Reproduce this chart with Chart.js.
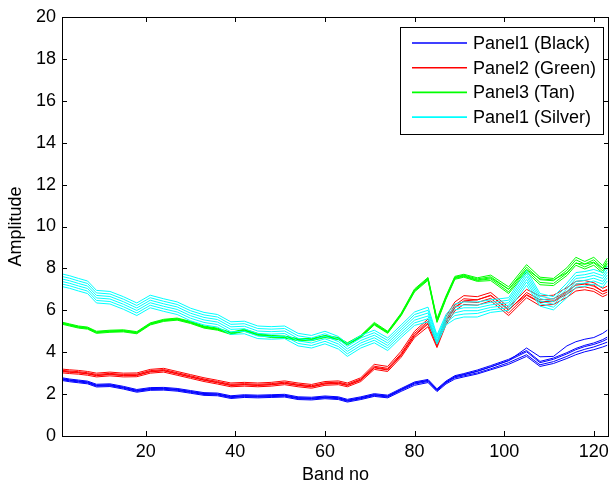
<!DOCTYPE html>
<html>
<head>
<meta charset="utf-8">
<script src="https://cdn.jsdelivr.net/npm/chart.js@4.4.1/dist/chart.umd.min.js"></script>
<style>
  body { margin: 0; background: #fff; }
  #wrap { width: 611px; height: 482px; }
</style>
</head>
<body>
<div id="wrap"><canvas id="myChart" width="611" height="482"></canvas></div>
<script>
var bands = [1,3,5,7,9,12,15,18,21,24,27,30,33,36,39,42,45,48,51,54,57,60,63,65,68,71,74,77,80,83,85,87,89,91,94,97,101,105,108,111,114,116,118,120,122,123];

// Panel1 (Black) - blue
var blue1 = [2.66,2.59,2.54,2.49,2.34,2.36,2.24,2.09,2.18,2.19,2.14,2.04,1.94,1.92,1.79,1.84,1.82,1.84,1.86,1.74,1.72,1.78,1.74,1.62,1.74,1.89,1.82,2.13,2.42,2.55,2.12,2.48,2.72,2.82,2.96,3.16,3.42,3.8,3.32,3.46,3.7,3.88,4.02,4.12,4.25,4.33];
var blue2 = [2.70,2.63,2.58,2.53,2.38,2.40,2.28,2.13,2.22,2.23,2.18,2.08,1.98,1.96,1.83,1.88,1.86,1.88,1.90,1.78,1.76,1.82,1.78,1.66,1.78,1.93,1.86,2.18,2.48,2.6,2.16,2.53,2.78,2.87,3.01,3.21,3.5,3.88,3.4,3.55,3.8,4.0,4.14,4.25,4.4,4.48];
var blue3 = [2.75,2.68,2.63,2.58,2.43,2.45,2.33,2.18,2.27,2.28,2.23,2.13,2.03,2.01,1.88,1.93,1.91,1.93,1.95,1.83,1.81,1.87,1.83,1.71,1.83,1.98,1.91,2.23,2.54,2.66,2.21,2.58,2.84,2.94,3.1,3.3,3.6,4.02,3.5,3.66,3.92,4.12,4.27,4.37,4.52,4.63];
var blue4 = [2.79,2.72,2.67,2.62,2.47,2.49,2.37,2.22,2.31,2.32,2.27,2.17,2.07,2.05,1.92,1.97,1.95,1.97,1.99,1.87,1.85,1.91,1.87,1.75,1.87,2.02,1.95,2.27,2.58,2.7,2.25,2.62,2.88,2.98,3.15,3.36,3.66,4.08,3.56,3.72,3.98,4.18,4.33,4.44,4.6,4.72];
var blue5 = [2.73,2.66,2.61,2.56,2.41,2.43,2.31,2.16,2.25,2.26,2.21,2.11,2.01,1.99,1.86,1.91,1.89,1.91,1.93,1.81,1.79,1.85,1.81,1.69,1.81,1.96,1.89,2.21,2.52,2.64,2.19,2.56,2.82,2.92,3.08,3.3,3.6,4.2,3.78,3.8,4.3,4.5,4.62,4.7,4.9,5.05];

// Panel2 (Green) - red
var red1 = [3.02,2.98,2.95,2.9,2.82,2.87,2.82,2.83,3.0,3.05,2.9,2.75,2.6,2.48,2.35,2.38,2.35,2.38,2.45,2.35,2.28,2.42,2.45,2.35,2.6,3.18,3.08,3.76,4.7,5.22,4.22,5.3,5.98,6.28,6.24,6.45,5.75,6.6,6.22,6.28,6.62,6.92,6.98,6.9,6.65,6.75];
var red2 = [3.08,3.04,3.01,2.96,2.88,2.93,2.88,2.89,3.06,3.11,2.96,2.81,2.66,2.54,2.41,2.44,2.41,2.44,2.51,2.41,2.34,2.48,2.51,2.41,2.66,3.25,3.15,3.84,4.78,5.35,4.3,5.42,6.12,6.42,6.37,6.57,5.87,6.72,6.37,6.42,6.77,7.07,7.12,7.02,6.77,6.87];
var red3 = [3.14,3.1,3.07,3.02,2.94,2.99,2.94,2.95,3.12,3.17,3.02,2.87,2.72,2.6,2.47,2.5,2.47,2.5,2.57,2.47,2.4,2.54,2.57,2.47,2.72,3.33,3.23,3.94,4.9,5.48,4.38,5.55,6.25,6.55,6.5,6.7,6.0,6.85,6.5,6.55,6.9,7.2,7.25,7.15,6.9,7.0];
var red4 = [3.2,3.16,3.13,3.08,3.0,3.05,3.0,3.01,3.18,3.23,3.08,2.93,2.78,2.66,2.53,2.56,2.53,2.56,2.63,2.53,2.46,2.6,2.63,2.53,2.78,3.42,3.32,4.05,5.0,5.58,4.45,5.7,6.4,6.7,6.65,6.85,6.15,7.0,6.68,6.72,7.08,7.38,7.42,7.32,7.05,7.15];
var red5 = [3.1,3.06,3.03,2.98,2.9,2.95,2.9,2.91,3.08,3.13,2.98,2.83,2.68,2.56,2.43,2.46,2.43,2.46,2.53,2.43,2.36,2.5,2.53,2.43,2.68,3.28,3.18,3.88,4.82,5.4,4.32,5.45,6.15,6.45,6.5,6.72,6.05,6.75,6.4,6.45,6.85,7.25,7.28,7.2,6.9,6.95];

// Panel3 (Tan) - green
var green1 = [5.35,5.25,5.15,5.1,4.9,4.95,4.97,4.88,5.3,5.47,5.53,5.37,5.15,5.05,4.85,5.0,4.8,4.7,4.67,4.55,4.55,4.7,4.6,4.35,4.7,5.3,4.9,5.74,6.88,7.43,5.42,6.52,7.48,7.58,7.38,7.42,6.8,7.82,7.22,7.18,7.66,8.15,7.97,8.15,7.78,8.12];
var green2 = [5.38,5.28,5.18,5.13,4.93,4.98,5.0,4.91,5.33,5.5,5.56,5.4,5.18,5.08,4.88,5.03,4.83,4.73,4.7,4.58,4.58,4.73,4.63,4.38,4.73,5.33,4.93,5.78,6.92,7.47,5.46,6.56,7.52,7.62,7.42,7.5,6.88,7.92,7.33,7.28,7.77,8.27,8.07,8.27,7.88,8.22];
var green3 = [5.42,5.32,5.22,5.17,4.97,5.02,5.04,4.95,5.37,5.54,5.6,5.44,5.22,5.12,4.92,5.07,4.87,4.77,4.74,4.62,4.62,4.77,4.67,4.42,4.77,5.38,4.97,5.83,6.98,7.53,5.55,6.64,7.58,7.68,7.5,7.6,7.01,8.06,7.46,7.41,7.91,8.41,8.21,8.41,8.01,8.36];
var green4 = [5.45,5.35,5.25,5.2,5.0,5.05,5.07,4.98,5.4,5.57,5.63,5.47,5.25,5.15,4.95,5.1,4.9,4.8,4.77,4.65,4.65,4.8,4.7,4.45,4.8,5.42,5.0,5.86,7.02,7.57,5.6,6.68,7.62,7.72,7.55,7.68,7.12,8.18,7.58,7.52,8.03,8.53,8.33,8.53,8.13,8.48];
var green5 = [5.4,5.3,5.2,5.15,4.95,5.0,5.02,4.93,5.35,5.52,5.58,5.42,5.2,5.1,4.9,5.05,4.85,4.75,4.72,4.6,4.6,4.75,4.65,4.4,4.75,5.35,4.95,5.8,6.95,7.5,5.5,6.6,7.55,7.65,7.45,7.55,7.0,7.95,7.5,7.45,7.8,8.25,8.2,8.3,8.0,8.25];

// Panel1 (Silver) - cyan
var cyan1 = [7.15,7.05,6.92,6.8,6.35,6.3,6.05,5.75,6.12,5.95,5.8,5.5,5.3,5.2,4.85,4.88,4.65,4.62,4.65,4.3,4.2,4.4,4.15,3.8,4.2,4.45,4.08,4.7,5.28,5.45,4.38,5.3,5.58,5.68,5.68,5.9,6.0,7.2,6.2,6.02,6.6,7.1,7.15,7.25,7.1,7.4];
var cyan2 = [7.27,7.17,7.04,6.92,6.47,6.42,6.17,5.87,6.24,6.07,5.92,5.62,5.42,5.32,4.97,5.0,4.77,4.74,4.77,4.42,4.32,4.52,4.27,3.92,4.32,4.57,4.2,4.82,5.4,5.6,4.46,5.4,5.75,5.82,5.85,6.02,6.12,7.35,6.32,6.15,6.75,7.25,7.3,7.4,7.25,7.55];
var cyan3 = [7.39,7.29,7.16,7.04,6.59,6.54,6.29,5.99,6.36,6.19,6.04,5.74,5.54,5.44,5.09,5.12,4.89,4.86,4.89,4.54,4.44,4.64,4.39,4.04,4.44,4.69,4.32,4.94,5.53,5.73,4.55,5.5,5.88,5.98,5.98,6.14,6.24,7.48,6.44,6.29,6.88,7.38,7.43,7.53,7.38,7.68];
var cyan4 = [7.51,7.41,7.28,7.16,6.71,6.66,6.41,6.11,6.48,6.31,6.16,5.86,5.66,5.56,5.21,5.24,5.01,4.98,5.01,4.66,4.56,4.76,4.51,4.16,4.56,4.81,4.44,5.06,5.67,5.87,4.65,5.6,6.02,6.12,6.12,6.26,6.36,7.62,6.56,6.41,7.02,7.52,7.57,7.67,7.52,7.82];
var cyan5 = [7.63,7.53,7.4,7.28,6.83,6.78,6.53,6.23,6.6,6.43,6.28,5.98,5.78,5.68,5.33,5.36,5.13,5.1,5.13,4.78,4.68,4.88,4.63,4.28,4.68,4.93,4.56,5.18,5.8,6.0,4.74,5.7,6.15,6.25,6.25,6.38,6.48,7.75,6.68,6.53,7.15,7.65,7.7,7.8,7.65,7.95];
var cyan6 = [7.75,7.65,7.52,7.4,6.95,6.9,6.65,6.35,6.72,6.55,6.4,6.1,5.9,5.8,5.45,5.48,5.25,5.22,5.25,4.9,4.8,5.0,4.75,4.4,4.8,5.05,4.68,5.3,5.92,6.15,4.82,5.8,6.3,6.4,6.4,6.5,6.6,7.9,6.8,6.65,7.3,7.8,7.85,7.95,7.8,8.1];

var xTicks = [20, 40, 60, 80, 100, 120];
var yTicks = [0, 2, 4, 6, 8, 10, 12, 14, 16, 18, 20];

var seriesNames = ['Panel1 (Black)', 'Panel2 (Green)', 'Panel3 (Tan)', 'Panel1 (Silver)'];
var seriesColors = ['#0000ff', '#ff0000', '#00ff00', '#00ffff'];
var groups = [
  [blue1, blue2, blue3, blue4, blue5],
  [red1, red2, red3, red4, red5],
  [green1, green2, green3, green4, green5],
  [cyan1, cyan2, cyan3, cyan4, cyan5, cyan6]
];

function toPoints(vals) {
  return vals.map(function (v, i) { return { x: bands[i], y: v }; });
}

var datasets = [];
groups.forEach(function (lines, g) {
  lines.forEach(function (vals) {
    datasets.push({
      label: seriesNames[g],
      data: toPoints(vals),
      borderColor: seriesColors[g],
      borderWidth: 1,
      pointRadius: 0,
      fill: false,
      tension: 0,
      order: 3 - g  // later panels drawn on top, like matlab
    });
  });
});

Chart.defaults.font.family = '"Liberation Sans", Arial, sans-serif';
Chart.defaults.font.size = 18;
Chart.defaults.color = '#000';

// box round the axes, inward ticks and the legend box
var matlabAxes = {
  id: 'matlabAxes',
  afterDraw: function (chart) {
    var ctx = chart.ctx;
    var a = chart.chartArea;
    var xs = chart.scales.x, ys = chart.scales.y;
    var tl = 5;
    ctx.save();
    ctx.strokeStyle = '#000';
    ctx.lineWidth = 1;
    ctx.strokeRect(Math.round(a.left) + 0.5, Math.round(a.top) + 0.5,
      Math.round(a.right - a.left) - 1, Math.round(a.bottom - a.top));
    ctx.beginPath();
    yTicks.forEach(function (v) {
      var py = Math.round(ys.getPixelForValue(v)) + 0.5;
      ctx.moveTo(a.left, py); ctx.lineTo(a.left + tl, py);
      ctx.moveTo(a.right, py); ctx.lineTo(a.right - tl, py);
    });
    xTicks.forEach(function (v) {
      var px = Math.round(xs.getPixelForValue(v)) + 0.5;
      ctx.moveTo(px, a.bottom); ctx.lineTo(px, a.bottom - tl);
      ctx.moveTo(px, a.top); ctx.lineTo(px, a.top + tl);
    });
    ctx.stroke();

    // legend
    var lx = 400, ly = 27, lw = 203, lh = 107;
    ctx.fillStyle = '#fff';
    ctx.fillRect(lx, ly, lw, lh);
    ctx.strokeRect(lx + 0.5, ly + 0.5, lw, lh);
    ctx.font = '18px "Liberation Sans", Arial, sans-serif';
    ctx.textBaseline = 'middle';
    seriesNames.forEach(function (name, i) {
      var yy = 43 + i * 24.7;
      ctx.strokeStyle = seriesColors[i];
      ctx.lineWidth = 1.6;
      ctx.beginPath();
      ctx.moveTo(412, yy);
      ctx.lineTo(467, yy);
      ctx.stroke();
      ctx.fillStyle = '#000';
      ctx.fillText(name, 473, yy + 1);
    });
    ctx.restore();
  }
};

var ctx = document.getElementById('myChart').getContext('2d');
var myChart = new Chart(ctx, {
  type: 'line',
  data: { datasets: datasets },
  options: {
    responsive: false,
    animation: false,
    layout: { padding: { left: 0, right: 2, top: 17, bottom: 0 } },
    plugins: { legend: { display: false }, tooltip: { enabled: false } },
    scales: {
      x: {
        type: 'linear',
        min: 1.3,
        max: 123.4,
        grid: { display: false, drawTicks: false },
        border: { display: false },
        afterBuildTicks: function (s) { s.ticks = xTicks.map(function (v) { return { value: v }; }); },
        ticks: { padding: 5, maxRotation: 0, autoSkip: false },
        title: { display: true, text: 'Band no', padding: { top: 0, bottom: -4 } },
        afterFit: function (s) { s.height = 46; s.paddingLeft = 0; s.paddingRight = 0; }
      },
      y: {
        min: 0,
        max: 20,
        grid: { display: false, drawTicks: false },
        border: { display: false },
        afterBuildTicks: function (s) { s.ticks = yTicks.map(function (v) { return { value: v }; }); },
        ticks: { padding: 6, autoSkip: false },
        title: { display: true, text: 'Amplitude', padding: { top: 5, bottom: 0 } },
        afterFit: function (s) { s.width = 62; }
      }
    }
  },
  plugins: [matlabAxes]
});
</script>
</body>
</html>
